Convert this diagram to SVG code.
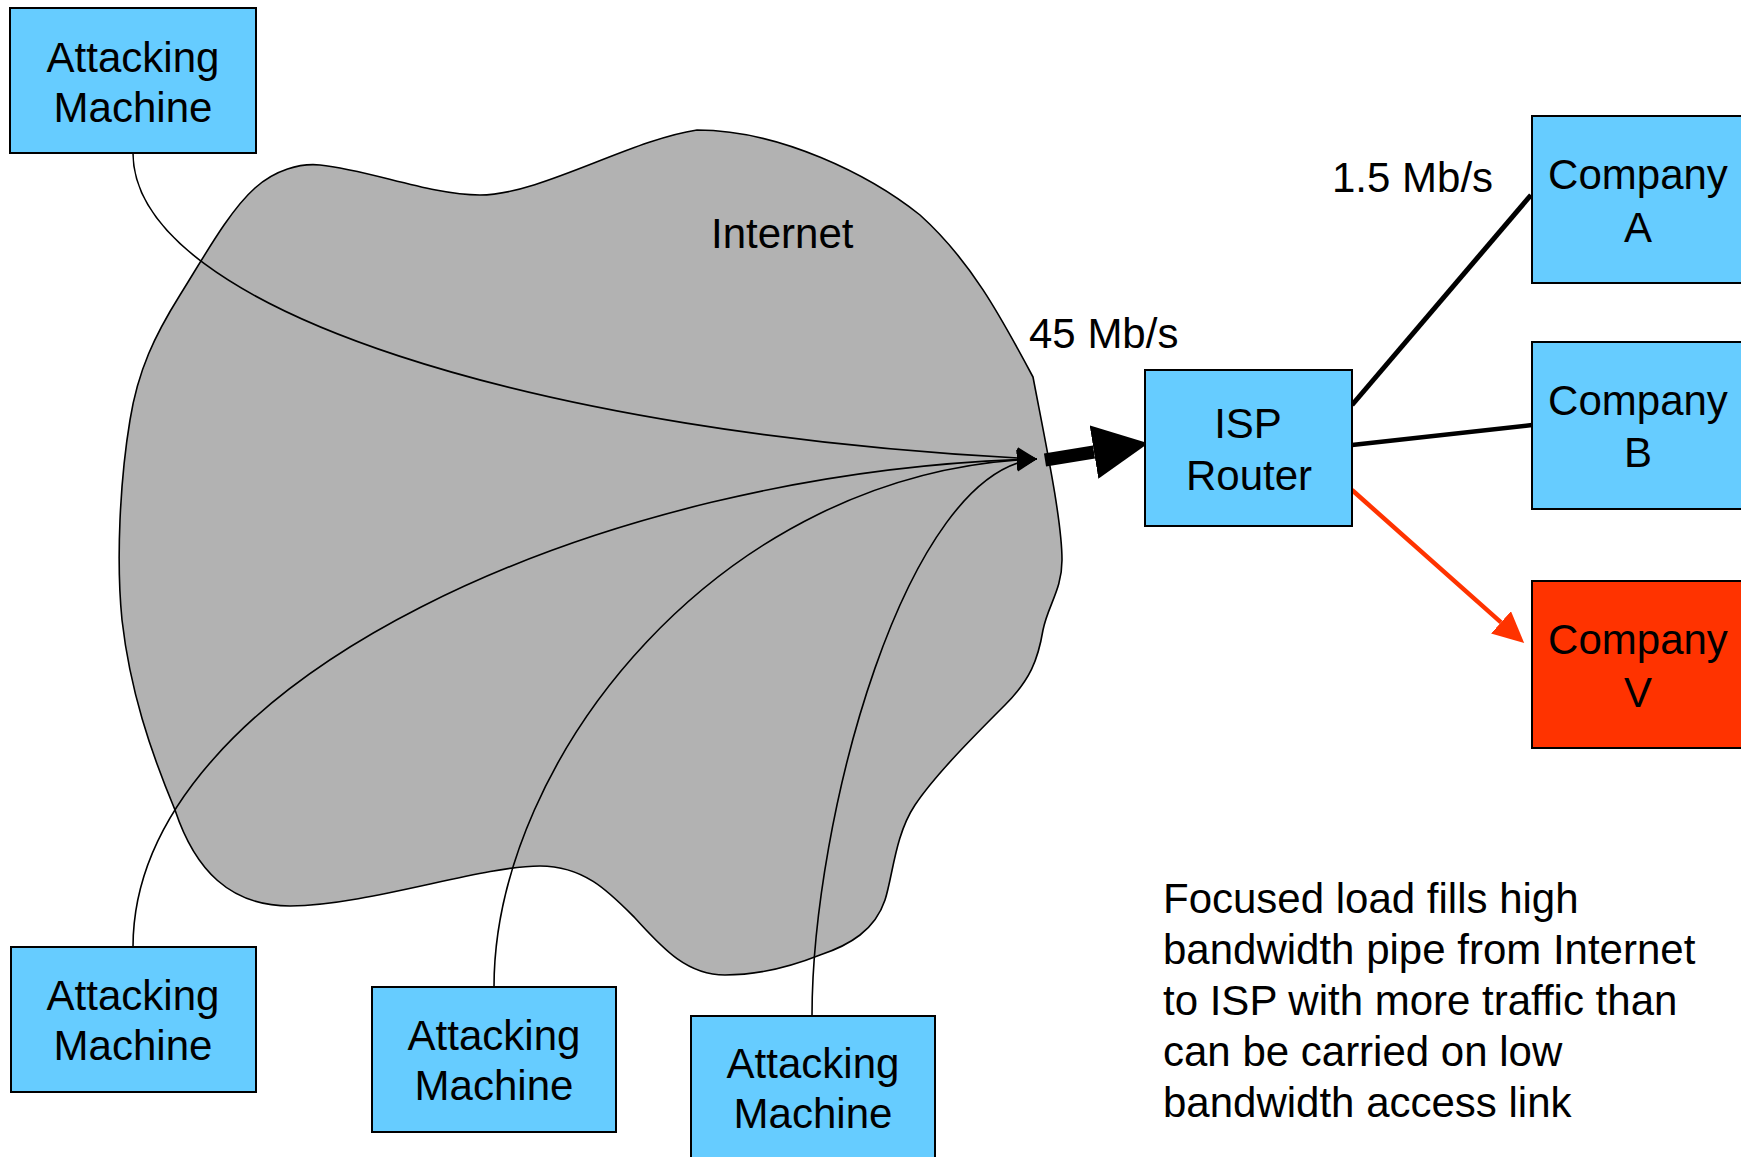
<svg xmlns="http://www.w3.org/2000/svg" width="1741" height="1157" viewBox="0 0 1741 1157">
  <style>
    text { font-family: "Liberation Sans", Arial, sans-serif; font-size: 42px; fill: #000; }
    .mid { text-anchor: middle; }
    .box { fill: #66CCFF; stroke: #000; stroke-width: 2; }
    .victim { fill: #FF3300; stroke: #000; stroke-width: 2; }
    .cloud { fill: #B2B2B2; stroke: #000; stroke-width: 1.6; }
    .attack { fill: none; stroke: #000; stroke-width: 1.6; marker-end: url(#tip); }
    .access { fill: none; stroke: #000; stroke-linecap: butt; }
  </style>
  <defs>
    <marker id="tip" viewBox="0 0 20 22" refX="20" refY="11" markerWidth="20" markerHeight="22" markerUnits="userSpaceOnUse" orient="auto">
      <path d="M0 0 L20 11 L0 22 Z" fill="#000"/>
    </marker>
    <marker id="bigTip" viewBox="0 0 55 54" refX="0" refY="27" markerWidth="55" markerHeight="54" markerUnits="userSpaceOnUse" orient="auto">
      <path d="M0 0 L55 27 L0 54 Z" fill="#000"/>
    </marker>
    <marker id="redTip" viewBox="0 0 31 30" refX="0" refY="15" markerWidth="31" markerHeight="30" markerUnits="userSpaceOnUse" orient="auto">
      <path d="M0 0 L31 15 L0 30 Z" fill="#FF3300"/>
    </marker>
  </defs>

  <!-- Internet cloud -->
  <g id="internet">
    <path class="cloud" d="M1033 377
      C1045 440 1062 520 1062 560
      C1062 590 1048 605 1043 630
      C1038 660 1030 680 1005 705
      C975 735 935 775 915 805
      C895 835 893 875 885 900
      C875 930 850 945 820 955
      C790 967 760 975 725 975
      C685 975 660 945 635 918
      C610 893 585 866 540 866
      C480 866 370 905 290 906
      C230 906 195 870 175 810
      C150 750 130 690 122 620
      C116 560 120 480 130 420
      C138 370 155 335 180 295
      C205 255 230 210 255 188
      C275 170 300 163 320 165
      C370 170 430 195 480 195
      C540 195 630 140 697 130
      C780 130 870 175 920 215
      C970 260 1000 315 1033 377 Z"/>
    <text x="711" y="248">Internet</text>
  </g>

  <!-- links -->
  <g id="connectors">
    <path class="attack" d="M133 153 C133 310 540 435 1037 459"/>
    <path class="attack" d="M133 947 C133 680 600 470 1037 459"/>
    <path class="attack" d="M494 987 C494 760 720 470 1037 459"/>
    <path class="attack" d="M812 1016 C812 820 905 470 1037 459"/>
    <path d="M1045 460 L1094 452" stroke="#000" stroke-width="13" fill="none" marker-end="url(#bigTip)"/>
    <path class="access" d="M1352 405 L1531 195" stroke-width="5"/>
    <path class="access" d="M1352 445 L1532 425" stroke-width="4.5"/>
    <path d="M1352 490 L1501 622.4" stroke="#FF3300" stroke-width="4.5" fill="none" marker-end="url(#redTip)"/>
  </g>

  <!-- link labels -->
  <g id="labels">
    <text x="1029" y="348">45 Mb/s</text>
    <text x="1332" y="192">1.5 Mb/s</text>
  </g>

  <!-- attacking machines -->
  <g id="attacker-1">
    <rect class="box" x="10" y="8" width="246" height="145"/>
    <text class="mid" x="133" y="72">Attacking</text>
    <text class="mid" x="133" y="122">Machine</text>
  </g>
  <g id="attacker-2">
    <rect class="box" x="11" y="947" width="245" height="145"/>
    <text class="mid" x="133" y="1010">Attacking</text>
    <text class="mid" x="133" y="1060">Machine</text>
  </g>
  <g id="attacker-3">
    <rect class="box" x="372" y="987" width="244" height="145"/>
    <text class="mid" x="494" y="1050">Attacking</text>
    <text class="mid" x="494" y="1100">Machine</text>
  </g>
  <g id="attacker-4">
    <rect class="box" x="691" y="1016" width="244" height="145"/>
    <text class="mid" x="813" y="1078">Attacking</text>
    <text class="mid" x="813" y="1128">Machine</text>
  </g>

  <!-- ISP router -->
  <g id="isp-router">
    <rect class="box" x="1145" y="370" width="207" height="156"/>
    <text class="mid" x="1248" y="438">ISP</text>
    <text class="mid" x="1249" y="490">Router</text>
  </g>

  <!-- customer sites -->
  <g id="company-a">
    <rect class="box" x="1532" y="116" width="214" height="167"/>
    <text class="mid" x="1638" y="189">Company</text>
    <text class="mid" x="1638" y="242">A</text>
  </g>
  <g id="company-b">
    <rect class="box" x="1532" y="342" width="214" height="167"/>
    <text class="mid" x="1638" y="415">Company</text>
    <text class="mid" x="1638" y="467">B</text>
  </g>
  <g id="company-v">
    <rect class="victim" x="1532" y="581" width="214" height="167"/>
    <text class="mid" x="1638" y="654">Company</text>
    <text class="mid" x="1638" y="707">V</text>
  </g>

  <!-- explanatory note -->
  <g id="note">
    <text x="1163" y="913">Focused load fills high</text>
    <text x="1163" y="964">bandwidth pipe from Internet</text>
    <text x="1163" y="1015">to ISP with more traffic than</text>
    <text x="1163" y="1066">can be carried on low</text>
    <text x="1163" y="1117">bandwidth access link</text>
  </g>
</svg>
